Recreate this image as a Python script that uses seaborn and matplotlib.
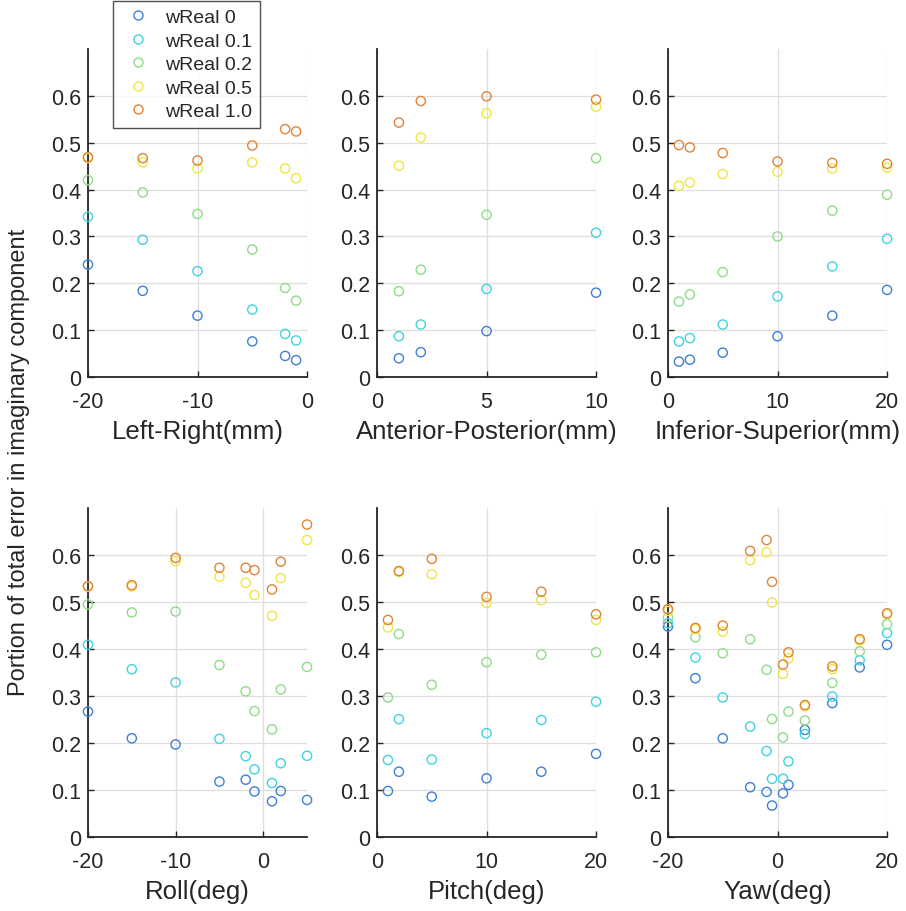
import numpy as np
import pandas as pd
import matplotlib
matplotlib.use("Agg")
import matplotlib.pyplot as plt
from matplotlib.lines import Line2D
import seaborn as sns

series = ["wReal 0", "wReal 0.1", "wReal 0.2", "wReal 0.5", "wReal 1.0"]
colors = ["#3f7fd6", "#3fd3e3", "#8fdc88", "#f0e640", "#e0843a"]

# Left-Right (mm)
lr_x = [-20, -15, -10, -5, -2, -1]
lr_y = [
    [0.240, 0.184, 0.131, 0.076, 0.045, 0.036],
    [0.342, 0.293, 0.226, 0.144, 0.092, 0.078],
    [0.420, 0.394, 0.348, 0.272, 0.190, 0.163],
    [0.467, 0.458, 0.445, 0.458, 0.445, 0.424],
    [0.469, 0.467, 0.462, 0.494, 0.529, 0.524],
]
# Anterior-Posterior (mm)
ap_x = [1, 2, 5, 10]
ap_y = [
    [0.040, 0.053, 0.098, 0.180],
    [0.087, 0.112, 0.188, 0.308],
    [0.183, 0.229, 0.346, 0.467],
    [0.451, 0.511, 0.563, 0.577],
    [0.543, 0.589, 0.599, 0.592],
]
# Inferior-Superior (mm)
is_x = [1, 2, 5, 10, 15, 20]
is_y = [
    [0.033, 0.037, 0.052, 0.087, 0.131, 0.186],
    [0.076, 0.083, 0.112, 0.172, 0.236, 0.295],
    [0.161, 0.176, 0.224, 0.300, 0.355, 0.389],
    [0.408, 0.415, 0.433, 0.438, 0.445, 0.447],
    [0.495, 0.490, 0.478, 0.460, 0.457, 0.455],
]
# Roll (deg)
roll_x = [-20, -15, -10, -5, -2, -1, 1, 2, 5]
roll_y = [
    [0.267, 0.210, 0.197, 0.118, 0.122, 0.097, 0.076, 0.098, 0.079],
    [0.409, 0.357, 0.329, 0.209, 0.172, 0.144, 0.115, 0.157, 0.173],
    [0.495, 0.478, 0.480, 0.366, 0.310, 0.268, 0.229, 0.314, 0.362],
    [0.533, 0.533, 0.587, 0.554, 0.541, 0.515, 0.471, 0.551, 0.632],
    [0.534, 0.536, 0.594, 0.573, 0.573, 0.568, 0.527, 0.586, 0.665],
]
# Pitch (deg)
pitch_x = [1, 2, 5, 10, 15, 20]
pitch_y = [
    [0.098, 0.139, 0.086, 0.125, 0.139, 0.177],
    [0.164, 0.251, 0.165, 0.221, 0.249, 0.288],
    [0.297, 0.432, 0.324, 0.372, 0.388, 0.393],
    [0.446, 0.564, 0.559, 0.498, 0.504, 0.462],
    [0.462, 0.566, 0.592, 0.511, 0.522, 0.474],
]
# Yaw (deg)
yaw_x = [-20, -15, -10, -5, -2, -1, 1, 2, 5, 10, 15, 20]
yaw_y = [
    [0.448, 0.338, 0.210, 0.106, 0.096, 0.067, 0.093, 0.111, 0.228, 0.285, 0.361, 0.409],
    [0.455, 0.382, 0.297, 0.235, 0.183, 0.124, 0.124, 0.161, 0.219, 0.299, 0.376, 0.434],
    [0.467, 0.425, 0.391, 0.421, 0.356, 0.251, 0.212, 0.267, 0.248, 0.328, 0.395, 0.453],
    [0.481, 0.442, 0.437, 0.589, 0.606, 0.499, 0.347, 0.380, 0.278, 0.357, 0.418, 0.474],
    [0.485, 0.445, 0.450, 0.609, 0.632, 0.543, 0.367, 0.393, 0.281, 0.363, 0.421, 0.476],
]

panels = [
    ("Left-Right(mm)", lr_x, lr_y, (-20, 0), [-20, -10, 0]),
    ("Anterior-Posterior(mm)", ap_x, ap_y, (0, 10), [0, 5, 10]),
    ("Inferior-Superior(mm)", is_x, is_y, (0, 20), [0, 10, 20]),
    ("Roll(deg)", roll_x, roll_y, (-20, 5), [-20, -10, 0]),
    ("Pitch(deg)", pitch_x, pitch_y, (0, 20), [0, 10, 20]),
    ("Yaw(deg)", yaw_x, yaw_y, (-20, 20), [-20, 0, 20]),
]

sns.set_style("white")
plt.rcParams["font.family"] = ["Liberation Sans", "DejaVu Sans"]
plt.rcParams["axes.unicode_minus"] = False

fig = plt.figure(figsize=(9.06, 9.12), dpi=100)
lefts = [0.0971, 0.4161, 0.7373]
widths = 0.2418
rows = [(0.5855, 0.3597), (0.0811, 0.3607)]

for i, (label, xs, ys, xlim, xticks) in enumerate(panels):
    r, c = divmod(i, 3)
    ax = fig.add_axes([lefts[c], rows[r][0], widths, rows[r][1]])
    recs = []
    for s, yv in zip(series, ys):
        for xv, v in zip(xs, yv):
            recs.append({"x": xv, "y": v, "series": s})
    df = pd.DataFrame(recs)
    sns.scatterplot(data=df, x="x", y="y", hue="series", hue_order=series,
                    palette=colors, s=44, marker="o", linewidth=1.0,
                    legend=False, ax=ax, zorder=3, clip_on=False)
    for coll in ax.collections:
        fc = coll.get_facecolors()
        coll.set_edgecolors(fc)
        coll.set_facecolors("none")
    ax.set_xlim(*xlim)
    ax.set_ylim(0, 0.7)
    ax.set_xticks(xticks)
    ax.set_yticks([0, 0.1, 0.2, 0.3, 0.4, 0.5, 0.6])
    ax.set_yticklabels(["0", "0.1", "0.2", "0.3", "0.4", "0.5", "0.6"])
    ax.grid(True, color="#dedede", linewidth=0.9)
    ax.set_axisbelow(True)
    for sp in ["top", "right"]:
        ax.spines[sp].set_visible(False)
    for sp in ["left", "bottom"]:
        ax.spines[sp].set_color("#262626")
        ax.spines[sp].set_linewidth(1.3)
    ax.tick_params(axis="both", direction="in", length=4, width=1.0,
                   colors="#262626", labelsize=15.5, labelcolor="#262626",
                   bottom=True, left=True)
    ax.tick_params(axis="x", pad=10)
    ax.tick_params(axis="y", pad=5)
    ax.set_xlabel(label, fontsize=18.5, color="#262626", labelpad=5)
    ax.set_ylabel("")

fig.text(0.021, 0.493, "Portion of total error in imaginary component",
         rotation=90, ha="center", va="center", fontsize=17, color="#262626")

handles = [Line2D([], [], linestyle="none", marker="o", markersize=6.5,
                  markerfacecolor="none", markeredgecolor=col,
                  markeredgewidth=1.0) for col in colors]
leg = fig.legend(handles, series, loc="upper left",
                 bbox_to_anchor=(0.1247, 0.998), borderaxespad=0,
                 frameon=True, fancybox=False,
                 fontsize=14, handletextpad=0.5, labelspacing=0.3,
                 borderpad=0.4, handlelength=1.8)
leg.get_frame().set_edgecolor("#262626")
leg.get_frame().set_linewidth(1.0)
for t in leg.get_texts():
    t.set_color("#262626")

fig.savefig("out.png", dpi=100)
